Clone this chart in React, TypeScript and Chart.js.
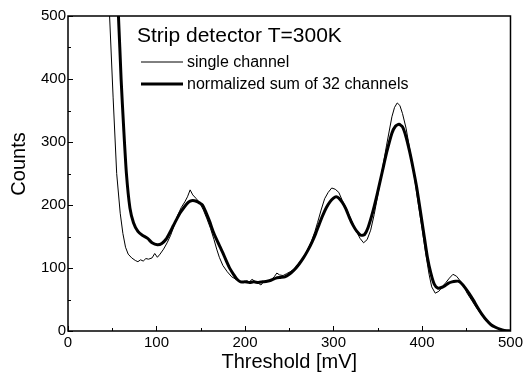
import React, { useEffect, useRef } from "react";
import { Chart, registerables } from "chart.js";

Chart.register(...registerables);

const titleText = "Strip detector T=300K";
const xTitle = "Threshold [mV]";
const yTitle = "Counts";
const seriesLabels = ["single channel", "normalized sum of 32 channels"];

const singleX = [44, 47, 51, 55, 59, 62, 65, 68, 72, 76, 79, 82, 85, 88, 91, 95, 98, 101, 104, 108, 112, 116, 120, 124, 128, 132, 135, 138, 141, 145, 149, 153, 157, 161, 165, 168, 171, 175, 180, 185, 190, 194, 198, 202, 205, 208, 211, 214, 218, 221, 225, 229, 233, 236, 239, 243, 247, 251, 256, 261, 266, 271, 275, 279, 282, 286, 290, 294, 298, 302, 306, 310, 314, 318, 322, 326, 330, 334, 338, 342, 346, 350, 355, 360, 366, 369, 372, 375, 378, 382, 386, 391, 396, 400, 404, 408, 411, 415, 419, 423, 427, 431, 435, 439, 443, 447, 451, 456, 461, 466, 471, 476, 481, 486, 491, 496, 500];
const singleY = [560, 500, 370, 250, 187, 155, 133, 122, 116, 112, 110, 113, 111, 115, 114, 116, 123, 117, 122, 130, 140, 152, 168, 184, 196, 205, 213, 224, 216, 210, 203, 192, 178, 163, 145, 130, 117, 104, 94, 86, 82, 79, 77, 80, 78, 82, 79, 77, 73, 78, 80, 80, 86, 92, 89, 88, 91, 94, 99, 108, 117, 130, 142, 158, 172, 192, 210, 220, 227, 225, 220, 207, 196, 183, 170, 158, 147, 140, 145, 160, 185, 215, 255, 295, 340, 355, 362, 358, 345, 322, 290, 248, 200, 163, 125, 90, 70, 60, 63, 70, 77, 84, 90, 87, 80, 72, 60, 49, 38, 28, 19, 12, 7, 4, 2, 1, 0];

const sumX = [54, 57, 60, 63, 66, 70, 74, 79, 84, 90, 95, 101, 106, 111, 115, 119, 123, 127, 131, 135, 138, 141, 145, 149, 152, 156, 160, 164, 168, 172, 175, 179, 183, 187, 191, 195, 200, 205, 210, 215, 220, 225, 230, 235, 240, 245, 250, 255, 261, 266, 271, 276, 280, 284, 288, 292, 296, 300, 303, 306, 310, 314, 318, 322, 326, 331, 335, 339, 344, 349, 355, 360, 366, 370, 374, 378, 382, 386, 390, 394, 398, 402, 406, 410, 414, 418, 422, 426, 430, 434, 438, 441, 445, 449, 453, 458, 463, 468, 473, 478, 483, 488, 493, 500];
const sumY = [560, 500, 400, 320, 250, 195, 172, 158, 152, 147, 140, 137, 139, 146, 156, 167, 178, 188, 196, 203, 206, 207, 206, 203, 200, 188, 174, 158, 145, 133, 124, 111, 99, 90, 82, 78, 78, 77, 78, 77, 78, 79, 81, 84, 85, 86, 90, 96, 106, 116, 128, 142, 155, 170, 184, 196, 205, 211, 213, 211, 204, 194, 180, 168, 159, 152, 153, 164, 187, 215, 252, 283, 314, 325, 328, 324, 308, 285, 258, 228, 192, 155, 118, 92, 74, 68, 69, 72, 76, 78, 79, 79, 75, 68, 60, 49, 37, 26, 17, 10, 6, 3, 1, 0];

const FONT = "'Liberation Sans', Arial, sans-serif";

const framePlugin = {
  id: "frameAndLegend",
  afterDraw(chart: any) {
    const { ctx, chartArea } = chart;
    const xs = chart.scales.x;
    const ys = chart.scales.y;
    ctx.save();
    ctx.strokeStyle = "#000";
    ctx.lineWidth = 1.5;
    ctx.strokeRect(chartArea.left, chartArea.top, chartArea.right - chartArea.left, chartArea.bottom - chartArea.top);
    ctx.lineWidth = 1;
    // inward ticks
    for (let v = 0; v <= 500; v += 50) {
      const len = v % 100 === 0 ? 5 : 3;
      const px = Math.round(xs.getPixelForValue(v)) + 0.5;
      ctx.beginPath();
      ctx.moveTo(px, chartArea.bottom);
      ctx.lineTo(px, chartArea.bottom - len);
      ctx.stroke();
      const py = Math.round(ys.getPixelForValue(v)) + 0.5;
      ctx.beginPath();
      ctx.moveTo(chartArea.left, py);
      ctx.lineTo(chartArea.left + len, py);
      ctx.stroke();
    }
    // title inside plot
    ctx.fillStyle = "#000";
    ctx.textAlign = "left";
    ctx.textBaseline = "alphabetic";
    ctx.font = `21px ${FONT}`;
    ctx.fillText(titleText, 137, 42);
    // legend
    const ds = chart.data.datasets;
    const rows = [62, 84];
    ctx.font = `16px ${FONT}`;
    ds.forEach((d: any, i: number) => {
      ctx.strokeStyle = d.borderColor;
      ctx.lineWidth = d.borderWidth;
      ctx.beginPath();
      ctx.moveTo(141, rows[i]);
      ctx.lineTo(183, rows[i]);
      ctx.stroke();
      ctx.fillText(d.label, 187, rows[i] + 5);
    });
    // y title
    ctx.save();
    ctx.translate(19, 164);
    ctx.rotate(-Math.PI / 2);
    ctx.textAlign = "center";
    ctx.textBaseline = "middle";
    ctx.font = `20px ${FONT}`;
    ctx.fillText(yTitle, 0, 0);
    ctx.restore();
    ctx.restore();
  },
};

export default function App() {
  const ref = useRef<HTMLCanvasElement>(null);
  useEffect(() => {
    if (!ref.current) return;
    const chart = new Chart(ref.current, {
      type: "line",
      data: {
        datasets: [
          {
            label: seriesLabels[0],
            data: singleX.map((x, i) => ({ x, y: singleY[i] })),
            borderColor: "#000",
            borderWidth: 1,
            pointRadius: 0,
            tension: 0,
            fill: false,
          },
          {
            label: seriesLabels[1],
            data: sumX.map((x, i) => ({ x, y: sumY[i] })),
            borderColor: "#000",
            borderWidth: 3,
            pointRadius: 0,
            tension: 0.2,
            fill: false,
          },
        ],
      },
      options: {
        animation: false,
        responsive: true,
        maintainAspectRatio: false,
        layout: { padding: { top: 16, right: 14, left: 0, bottom: 0 } },
        plugins: { legend: { display: false }, tooltip: { enabled: false } },
        scales: {
          x: {
            type: "linear",
            min: 0,
            max: 500,
            grid: { display: false, drawTicks: false },
            border: { display: false },
            ticks: { stepSize: 100, padding: 3, color: "#000", font: { family: FONT, size: 15 }, maxRotation: 0 },
            title: { display: true, text: xTitle, color: "#000", font: { family: FONT, size: 20 }, padding: { top: 0, bottom: 2 } },
            afterFit: (s: any) => {
              s.height = 45;
            },
          },
          y: {
            type: "linear",
            min: 0,
            max: 500,
            grid: { display: false, drawTicks: false },
            border: { display: false },
            ticks: { stepSize: 100, padding: 2, color: "#000", font: { family: FONT, size: 15 } },
            afterFit: (s: any) => {
              s.width = 68;
            },
          },
        },
      },
      plugins: [framePlugin],
    });
    return () => chart.destroy();
  }, []);
  return (
    <div style={{ position: "absolute", left: 0, top: 0, width: 526, height: 376, background: "#fff" }}>
      <canvas ref={ref} />
    </div>
  );
}
